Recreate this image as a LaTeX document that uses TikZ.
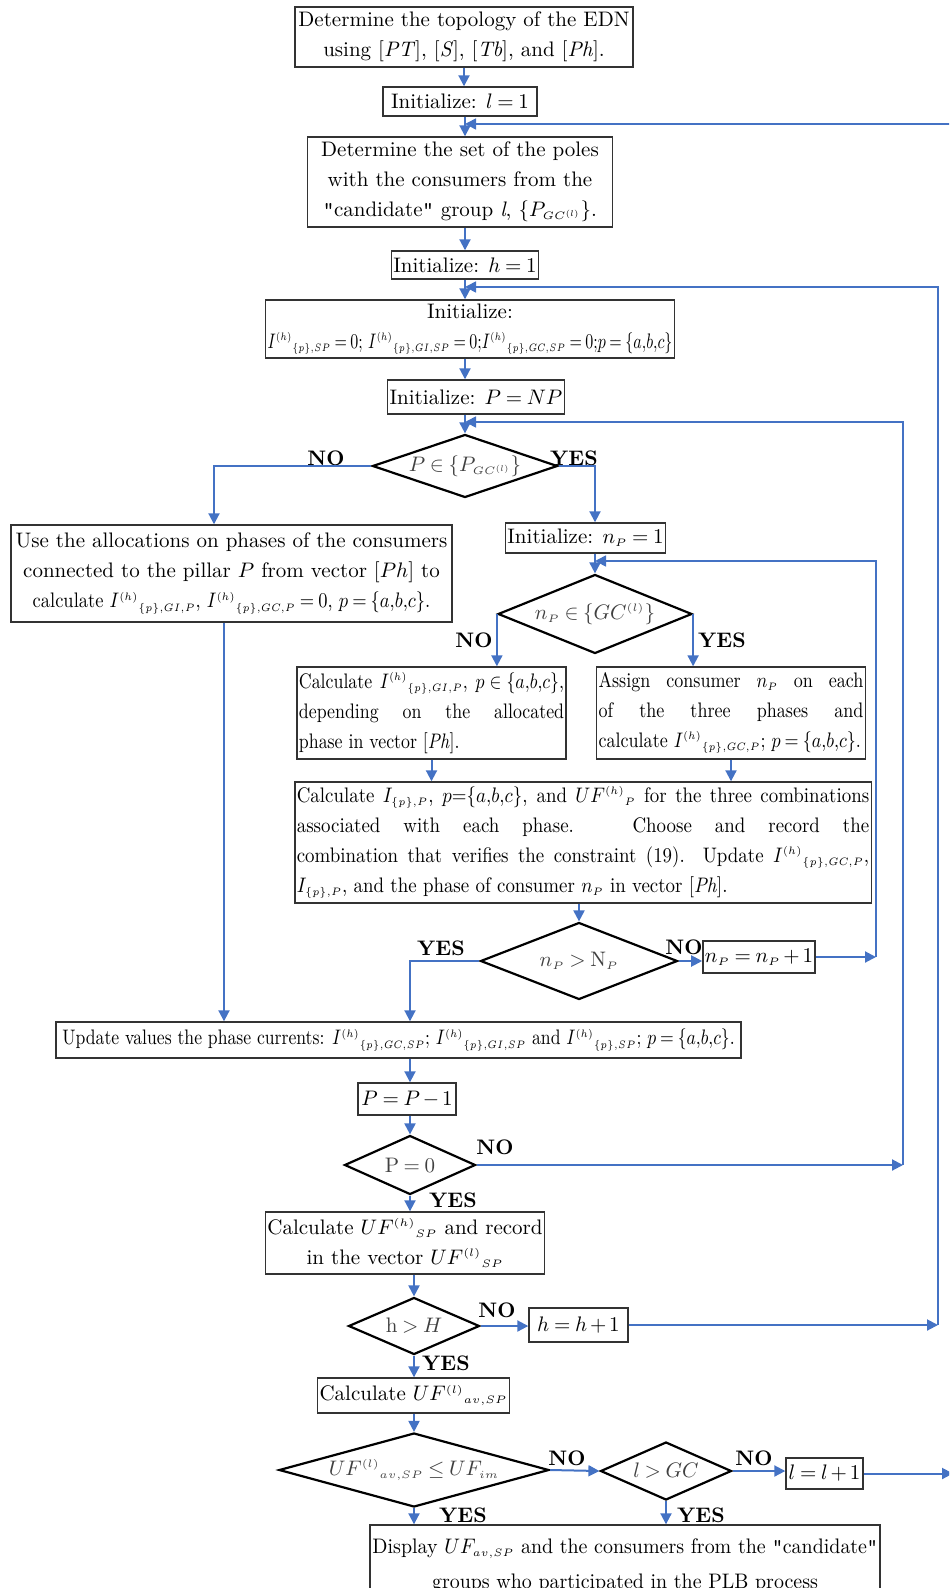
\RequirePackage{fix-cm}
\documentclass[tikz,border=0pt]{standalone}
\usepackage{fontspec}
\usepackage{graphicx}
\usetikzlibrary{positioning, shapes.geometric, arrows.meta}
\definecolor{flowblue}{HTML}{4472C4}
\DeclareMathSizes{10.5}{10.5}{5.4}{4.2}
\thickmuskip=4mu plus 2mu
\medmuskip=2.5mu plus 1mu
\newcommand{\dq}{\texttt{"}}

\begin{document}
\begin{tikzpicture}[x=0.5pt, y=-0.5pt, font=\fontsize{10.5}{15}\selectfont,
    box/.style={draw=black!80, line width=0.7pt, inner sep=1pt, align=center},
    decision/.style={shape=diamond, draw=black, text=black!75, line width=1.1pt, inner sep=0pt},
    flow/.style={draw=flowblue, line width=1pt, -{Triangle[length=5.5pt, width=5.5pt]}},
    back/.style={draw=flowblue, line width=0.8pt, -{Triangle[length=5.5pt, width=5.5pt]}},
    answer/.style={font=\fontsize{10.5}{15}\selectfont\bfseries}]
    \clip (0,0) rectangle (949,1588);

    \node[box, minimum width=169pt, minimum height=30pt] (topo) at (464,37) {Determine the topology of the EDN\\ using [\textit{PT}], [\textit{S}], [\textit{Tb}], and [\textit{Ph}].};
    \node[box, minimum width=77pt, minimum height=14.5pt] (initl) at (460,101.5) {Initialize: $l=1$};
    \node[box, minimum width=152.5pt, minimum height=45pt] (poles) at (460,182) {Determine the set of the poles\\ with the consumers from the\\ \dq candidate\dq{} group \textit{l}, \{$P_{GC^{(l)}}$\}.};
    \node[box, minimum width=72pt, minimum height=14pt] (inith) at (465,265) {Initialize: $h=1$};
    \node[box, minimum width=203.5pt, minimum height=29pt] (initI) at (470,329) {Initialize:\\ \scalebox{0.76}[1]{$I^{(h)}{}_{\{p\},SP}=0$; $I^{(h)}{}_{\{p\},GI,SP}=0$;$I^{(h)}{}_{\{p\},GC,SP}=0$;$p=\{a{,}b{,}c\}$}};
    \node[box, minimum width=83pt, minimum height=17pt] (initP) at (476,397) {Initialize: $P=NP$};
    \node[decision, aspect=2.94, minimum width=92.5pt, minimum height=31.5pt] (decP) at (465,466) {$P\in\{P_{GC^{(l)}}\}$};

    \node[box, minimum width=220.5pt, minimum height=48.5pt] (alloc) at (231.5,573.5) {Use the allocations on phases of the consumers\\ connected to the pillar $P$ from vector [$Ph$] to\\ \scalebox{0.88}[1]{calculate $I^{(h)}{}_{\{p\},GI,P}$, $I^{(h)}{}_{\{p\},GC,P}=0$, $p=\{a{,}b{,}c\}$.}};
    \node[box, minimum width=79.5pt, minimum height=15pt] (initn) at (585.5,538) {Initialize: $n_P=1$};
    \node[decision, aspect=2.46, minimum width=97pt, minimum height=39.5pt] (decn) at (595,614) {$n_P\in\{GC^{(l)}\}$};
    \node[box, minimum width=134.5pt, minimum height=46pt] (calcGI) at (431.5,713) {\scalebox{0.85}[1]{\parbox{156pt}{Calculate $I^{(h)}{}_{\{p\},GI,P}$, $p\in\{a{,}b{,}c\}$,\linebreak depending on the allocated\linebreak phase in vector [\textit{Ph}].}}};
    \node[box, minimum width=133pt, minimum height=46pt] (assign) at (731,713) {\scalebox{0.86}[1]{\parbox{154pt}{Assign consumer $n_P$ on each\linebreak of the three phases and\linebreak calculate $I^{(h)}{}_{\{p\},GC,P}$; $p=\{a{,}b{,}c\}$.}}};
    \node[box, minimum width=286pt, minimum height=60.5pt] (calcUF) at (583,842.5) {\scalebox{0.9}[1]{\parbox{318pt}{Calculate $I_{\{p\},P}$, $p$=\{$a{,}b{,}c$\}, and $UF^{(h)}{}_P$ for the three combinations\linebreak associated with each phase. Choose and record the\linebreak combination that verifies the constraint (19). Update $I^{(h)}{}_{\{p\},GC,P}$,\linebreak $I_{\{p\},P}$, and the phase of consumer $n_P$ in vector [\textit{Ph}].}}};
    \node[decision, aspect=2.56, minimum width=98.5pt, minimum height=38.5pt] (decN) at (579,961) {$n_P>\mathrm{N}_P$};
    \node[box, minimum width=49pt, minimum height=16pt] (incn) at (759,957) {$n_P=n_P+1$};

    \node[box, minimum width=342.5pt, minimum height=18pt] (update) at (398.5,1040) {\scalebox{0.84}[1]{Update values the phase currents: $I^{(h)}{}_{\{p\},GC,SP}$; $I^{(h)}{}_{\{p\},GI,SP}$ and $I^{(h)}{}_{\{p\},SP}$; $p=\{a{,}b{,}c\}$.}};
    \node[box, minimum width=49pt, minimum height=16pt] (decr) at (407,1099) {$P=P-1$};
    \node[decision, aspect=2.22, minimum width=65.5pt, minimum height=29.5pt] (decz) at (410,1165) {$\mathrm{P}=0$};
    \node[box, minimum width=128pt, minimum height=31pt] (calcSP) at (405,1243) {Calculate $UF^{(h)}{}_{SP}$ and record\\ in the vector $UF^{(l)}{}_{SP}$};
    \node[decision, aspect=2.3, minimum width=65.5pt, minimum height=28.5pt] (dech) at (414,1326) {$\mathrm{h}>H$};
    \node[box, minimum width=49.5pt, minimum height=17pt] (inch) at (578.5,1325) {$h=h+1$};
    \node[box, minimum width=82.5pt, minimum height=17.5pt] (calcav) at (413.5,1395.5) {Calculate $UF^{(l)}{}_{av,SP}$};
    \node[decision, aspect=3.65, minimum width=135pt, minimum height=37pt] (decav) at (414,1470) {$UF^{(l)}{}_{av,SP}\le UF_{im}$};
    \node[decision, aspect=2.26, minimum width=65.5pt, minimum height=29pt] (decl) at (666,1471) {$l>GC$};
    \node[box, minimum width=38.5pt, minimum height=15.5pt] (incl) at (824.5,1473.5) {$l=l+1$};
    \node[box, minimum width=255pt, minimum height=40pt] (disp) at (625,1565) {\scalebox{0.95}[1]{\begin{tabular}{@{}c@{}}Display $UF_{av,SP}$ and the consumers from the \dq candidate\dq\\[2.5pt] groups who participated in the PLB process\end{tabular}}};

    \node[answer] (noP) at (326,458) {NO};
    \node[answer] (yesP) at (574,458) {YES};
    \node[answer] (non) at (474,640) {NO};
    \node[answer] (yesn) at (722,640) {YES};
    \node[answer] (yesN) at (441,948) {YES};
    \node[answer] (noN) at (684,947) {NO};
    \node[answer] (noz) at (495,1147) {NO};
    \node[answer] (yesz) at (453,1200) {YES};
    \node[answer] (noh) at (497,1310) {NO};
    \node[answer] (yesh) at (446,1363) {YES};
    \node[answer] (noav) at (567,1458) {NO};
    \node[answer] (nol) at (754,1458) {NO};
    \node[answer] (yesav) at (463,1515) {YES};
    \node[answer] (yesl) at (701,1515) {YES};

    \coordinate (jl) at (465,124);
    \coordinate (jh) at (465,287);
    \coordinate (jP) at (465,422);
    \coordinate (jn) at (595,561);
    \coordinate (rn) at (876,957);
    \coordinate (rP) at (903,1165);
    \coordinate (rh) at (938,1325);
    \coordinate (rl) at (953,1473.5);

    \draw[flow] (topo.south) -- (topo.south |- initl.north);
    \draw[flow] (initl.south -| jl) -- (poles.north -| jl);
    \draw[flow] (poles.south -| jh) -- (inith.north -| jh);
    \draw[flow] (inith.south -| jh) -- (initI.north -| jh);
    \draw[flow] (initI.south -| jP) -- (initP.north -| jP);
    \draw[flow] (initP.south -| jP) -- (decP.north);
    \draw[flow] (decP.west) -| ([xshift=-8.75pt]alloc.north);
    \draw[flow] (decP.east) -| (initn.north -| decn.north);
    \draw[flow] (initn.south -| decn.north) -- (decn.north);
    \draw[flow] (decn.west) -- (decn.west |- calcGI.north);
    \draw[flow] (decn.east) -- (decn.east |- assign.north);
    \draw[flow] (calcGI.south) -- (calcGI.south |- calcUF.north);
    \draw[flow] (assign.south) -- (assign.south |- calcUF.north);
    \draw[flow] (calcUF.south -| decN.north) -- (decN.north);
    \draw[flow] (decN.west) -| (update.north -| decz.north);
    \draw[flow] (decN.east) -- (decN.east -| incn.west);
    \draw[flow] (incn.east) -- (rn);
    \draw[back] (rn) |- (jn);
    \draw[flow] ([xshift=-3.75pt]alloc.south) -- ([xshift=-3.75pt]alloc.south |- update.north);

    \draw[flow] (update.south -| decz.north) -- (decr.north -| decz.north);
    \draw[flow] (decr.south -| decz.north) -- (decz.north);
    \draw[flow] (decz.east) -- (rP);
    \draw[back] (rP) |- (jP);
    \draw[flow] (decz.south) -- (decz.south |- calcSP.north);
    \draw[flow] (calcSP.south -| dech.north) -- (dech.north);
    \draw[flow] (dech.east) -- (dech.east -| inch.west);
    \draw[flow] (inch.east) -- (rh);
    \draw[back] (rh) |- (jh);
    \draw[flow] (dech.south) -- (dech.south |- calcav.north);
    \draw[flow] (calcav.south -| decav.north) -- (decav.north);
    \draw[flow] (decav.east) -- (decl.west);
    \draw[flow] (decl.east) -- (decl.east -| incl.west);
    \draw[flow] (incl.east) -- (rl);
    \draw[back] (rl) |- (jl);
    \draw[flow] (decav.south) -- (decav.south |- disp.north);
    \draw[flow] (decl.south) -- (decl.south |- disp.north);
\end{tikzpicture}
\end{document}
